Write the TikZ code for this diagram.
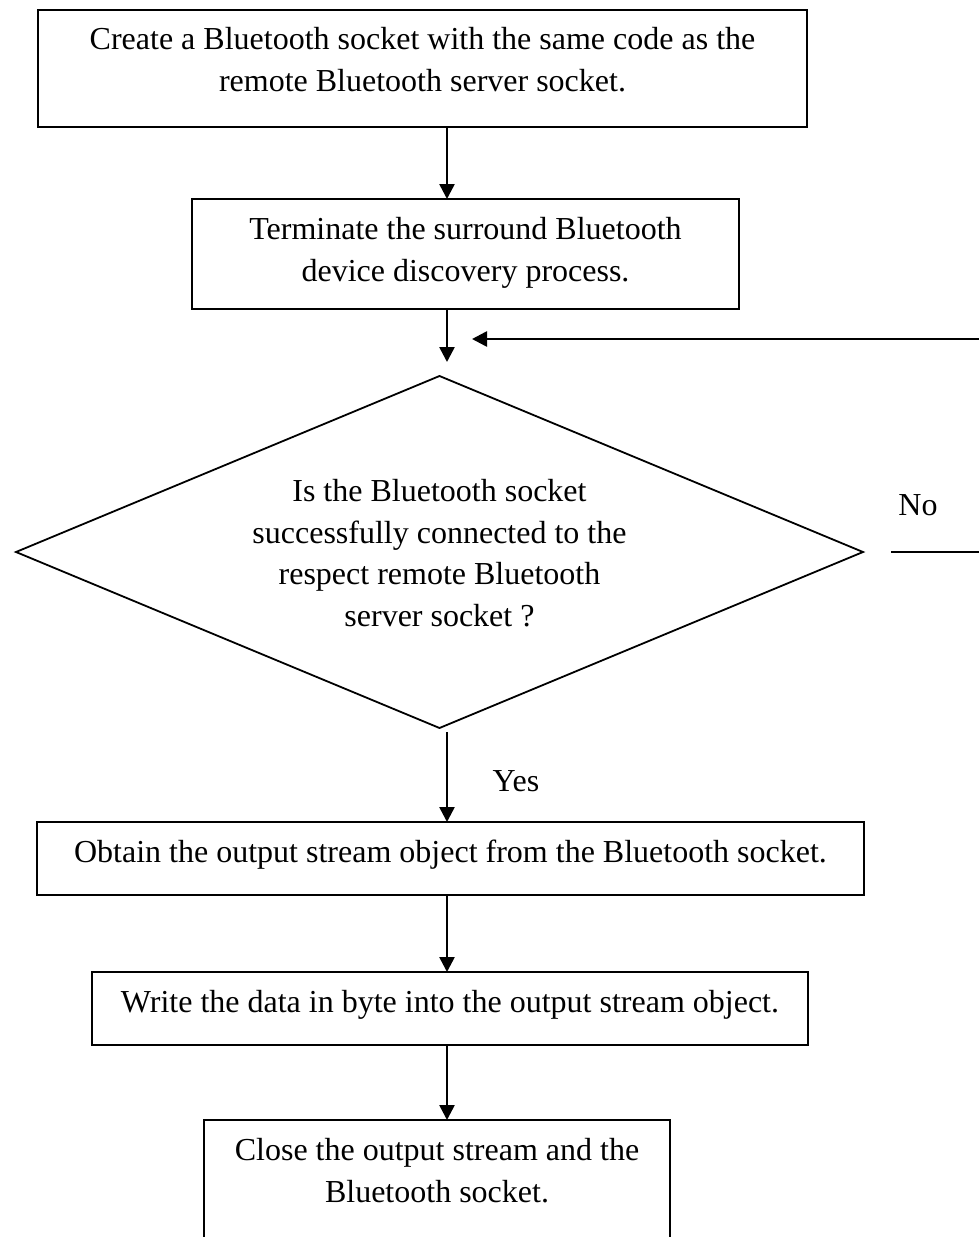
\documentclass[tikz,border=0pt]{standalone}
\usepackage{fontspec}
\setmainfont{Liberation Serif}
\usetikzlibrary{arrows.meta,shapes.geometric}
\begin{document}
\begin{tikzpicture}[x=1pt,y=-1pt,
  stepbox/.style={draw, line width=2pt, rectangle, inner sep=0pt, outer sep=0pt},
  decision/.style={draw, line width=1.8pt, diamond, inner sep=0pt, outer sep=0pt},
  txt/.style={font=\fontsize{32}{41.5}\selectfont, align=center, inner sep=0pt, anchor=base},
  flow/.style={line width=2.6pt, -{Triangle[length=15pt,width=15pt]}}
]
\useasboundingbox (0,0) rectangle (979,1237);
\clip (0,0) rectangle (979,1237);

% boxes of the flow
\node[stepbox, minimum width=769pt, minimum height=117pt] (b1) at (422.5,68.5) {};
\node[stepbox, minimum width=547pt, minimum height=110pt] (b2) at (465.5,254) {};
\node[decision, minimum width=847pt, minimum height=352pt] (d) at (439.5,552) {};
\node[stepbox, minimum width=827pt, minimum height=73pt] (b3) at (450.5,858.5) {};
\node[stepbox, minimum width=716pt, minimum height=73pt] (b4) at (450,1008.5) {};
\node[stepbox, minimum width=466pt, minimum height=200pt] (b5) at (437,1220) {};

% texts
\node[txt] (t1) at ([yshift=-22.5pt]b1.center) {Create a Bluetooth socket with the same code as the\\remote Bluetooth server socket.};
\node[txt] (t2) at ([yshift=-27pt]b2.center) {Terminate the surround Bluetooth\\device discovery process.};
\node[txt] (td) at ([yshift=-74pt]d.center) {Is the Bluetooth socket\\successfully connected to the\\respect remote Bluetooth\\server socket ?};
\node[txt] (t3) at ([yshift=-3.5pt]b3.center) {Obtain the output stream object from the Bluetooth socket.};
\node[txt] (t4) at ([yshift=-3.5pt]b4.center) {Write the data in byte into the output stream object.};
\node[txt] (t5) at ([yshift=-82pt]b5.north) {Close the output stream and the\\Bluetooth socket.};

\node[txt] (yes) at (516,791) {Yes};
\node[txt] (no) at (918,515) {No};

% connectors
\coordinate (axis) at (447,0);
\coordinate (dtop) at ([yshift=14pt]d.north);
\coordinate (dbot) at ([yshift=-4pt]d.south);
\coordinate (nostart) at ([xshift=28pt]d.east);
\coordinate (backtip) at (472,339);

\draw[flow] (axis |- b1.south) -- (axis |- b2.north);
\draw[flow] (axis |- b2.south) -- (axis |- dtop);
\draw[flow] (nostart) -- ++(130,0) |- (backtip);
\draw[flow] (axis |- dbot) -- (axis |- b3.north);
\draw[flow] (axis |- b3.south) -- (axis |- b4.north);
\draw[flow] (axis |- b4.south) -- (axis |- b5.north);
\end{tikzpicture}
\end{document}
